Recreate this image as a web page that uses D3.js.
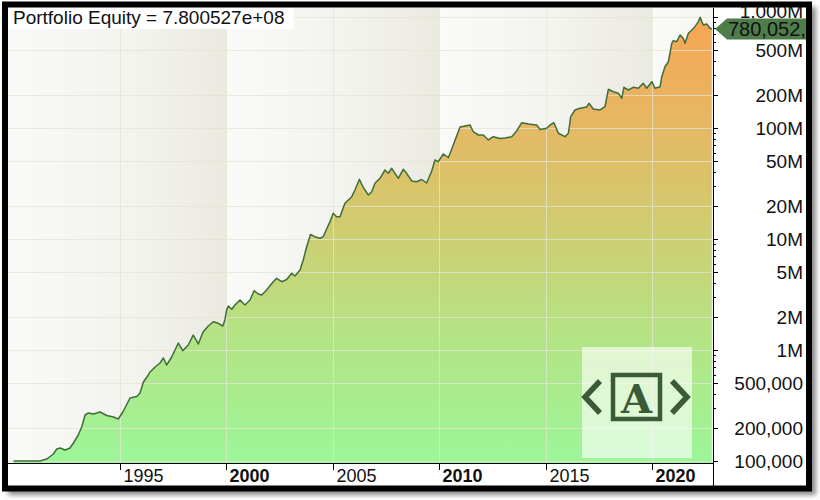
<!DOCTYPE html>
<html><head><meta charset="utf-8">
<script src="https://cdn.jsdelivr.net/npm/d3@7"></script>
<style>body{margin:0;background:#fff}svg{display:block}text{font-family:"Liberation Sans",Arial,sans-serif}</style>
</head><body><svg id="c" width="820" height="500"></svg>
<script>
// ---- data ----
const years=[1990.00,1991.24,1991.56,1991.87,1992.03,1992.18,1992.42,1992.65,1992.81,1993.04,
1993.20,1993.36,1993.51,1993.75,1994.06,1994.38,1994.69,1994.92,1995.16,1995.47,
1995.79,1995.94,1996.10,1996.33,1996.41,1996.65,1996.88,1997.04,1997.19,1997.43,
1997.74,1997.95,1998.21,1998.44,1998.68,1998.91,1999.15,1999.38,1999.62,1999.83,
1999.93,2000.01,2000.09,2000.25,2000.40,2000.64,2000.87,2001.11,2001.30,2001.50,
2001.66,2001.89,2002.20,2002.36,2002.60,2002.83,2003.07,2003.22,2003.46,2003.61,
2003.77,2003.95,2004.16,2004.40,2004.55,2004.71,2004.87,2005.02,2005.18,2005.34,
2005.57,2005.73,2005.89,2006.04,2006.25,2006.43,2006.67,2006.83,2006.98,2007.22,
2007.45,2007.61,2007.77,2007.92,2008.08,2008.31,2008.47,2008.71,2008.94,2009.18,
2009.41,2009.65,2009.80,2009.96,2010.19,2010.43,2010.59,2010.82,2010.98,2011.21,
2011.45,2011.60,2011.84,2012.07,2012.31,2012.54,2012.86,2013.09,2013.41,2013.64,
2013.88,2014.19,2014.58,2014.74,2015.05,2015.21,2015.39,2015.60,2015.91,2016.07,
2016.18,2016.38,2016.62,2016.93,2017.04,2017.24,2017.56,2017.79,2017.95,2018.18,
2018.42,2018.58,2018.68,2018.89,2019.12,2019.36,2019.59,2019.75,2019.99,2020.14,
2020.38,2020.46,2020.61,2020.77,2020.93,2021.00,2021.16,2021.32,2021.47,2021.55,
2021.71,2021.87,2022.02,2022.18,2022.26,2022.41,2022.57,2022.73,2022.81];
const equity=[100000,100000,104200,115600,128300,131000,125600,131000,145300,171500,
202500,259700,270600,265100,276300,257000,249100,239000,282100,369400,
381100,410000,514900,595400,633700,702800,763500,847300,732500,865000,
1156000,985600,1109000,1365000,1133000,1462000,1645000,1799000,1740000,1645000,
1864000,2293000,2491000,2326000,2543000,2821000,2543000,2821000,3421000,3195000,
3130000,3471000,4124000,4425000,4124000,4316000,4909000,4642000,5257000,6469000,
8473000,10980000,10490000,10150000,10490000,12310000,14320000,17040000,15880000,15880000,
20970000,22450000,24050000,27630000,34500000,29230000,24910000,26680000,31760000,35220000,
41840000,39080000,43350000,39080000,35220000,42460000,39080000,33310000,32830000,34360000,
31960000,41000000,51490000,49700000,58320000,54230000,64690000,84730000,102100000,104200000,
106400000,92610000,86490000,86490000,77980000,83510000,80440000,81280000,83510000,93980000,
111600000,108600000,106400000,96940000,99380000,106400000,111600000,89610000,83510000,89610000,
126400000,145300000,150500000,154600000,166900000,148300000,145300000,155600000,223200000,212300000,
205400000,185200000,232600000,219900000,232600000,227900000,252700000,227900000,261300000,227900000,
235500000,289900000,356600000,395600000,579600000,611600000,599100000,688200000,642800000,579600000,
713100000,763500000,817700000,907200000,993800000,847300000,865000000,791100000,780052700];
const xTicks=[1995,2000,2005,2010,2015,2020];
const xBold=[2000,2010,2020];
const bandEdges=[1989,1995,2000,2005,2010,2015,2020,2024];
const yTicks=[1e5,2e5,5e5,1e6,2e6,5e6,1e7,2e7,5e7,1e8,2e8,5e8,1e9];
const yLabels=["100,000","200,000","500,000","1M","2M","5M","10M","20M","50M","100M","200M","500M","1,000M"];
const yMinorMult=[3,4,6,7,8,9];
const yDecades=[1e5,1e6,1e7,1e8];
const titleText="Portfolio Equity = 7.800527e+08";
const lastValue=780052700;

// ---- layout ----
const L=8,R=713,T=8,B=463,FR=806,FB=486;
const svg=d3.select("#c");
const x=d3.scaleLinear().domain([1990,2020]).range([13.6,652]);
const y=d3.scaleLog().domain([1e5,1e9]).range([461,17]);
const data=years.map((t,i)=>({t,v:equity[i]}));

const defs=svg.append("defs");
const sh=defs.append("filter").attr("id","sh").attr("x","-5%").attr("y","-5%").attr("width","110%").attr("height","110%");
sh.append("feGaussianBlur").attr("stdDeviation",2.5);
const gLight=defs.append("linearGradient").attr("id","bl");
gLight.append("stop").attr("offset",0).attr("stop-color","#fafaf8");
gLight.append("stop").attr("offset",1).attr("stop-color","#f3f3ef");
const gDark=defs.append("linearGradient").attr("id","bd");
gDark.append("stop").attr("offset",0).attr("stop-color","#f5f5f0");
gDark.append("stop").attr("offset",1).attr("stop-color","#eaeae1");
const ga=defs.append("linearGradient").attr("id","ga").attr("gradientUnits","userSpaceOnUse")
 .attr("x1",0).attr("x2",0).attr("y1",y(1e5)).attr("y2",y(1e9));
[[0,"#9cf698"],[0.3,"#b6e283"],[0.55,"#d2ca6f"],[0.78,"#e7b662"],[1,"#f8a553"]].forEach(s=>
 ga.append("stop").attr("offset",s[0]).attr("stop-color",s[1]));
defs.append("clipPath").attr("id","pc").append("rect").attr("x",L).attr("y",T).attr("width",R-L).attr("height",B-T);
defs.append("clipPath").attr("id","tc").append("rect").attr("x",R).attr("y",0).attr("width",FR-R).attr("height",60);

// shadow
svg.append("rect").attr("x",8).attr("y",7).attr("width",808).attr("height",488).attr("fill","#8a8a8a").attr("filter","url(#sh)");
svg.append("rect").attr("x",2).attr("y",1).attr("width",810).attr("height",490).attr("fill","#fff");

const plot=svg.append("g").attr("clip-path","url(#pc)");
// bands
for(let i=0;i<bandEdges.length-1;i++){
  plot.append("rect").attr("x",x(bandEdges[i])).attr("y",T)
   .attr("width",x(bandEdges[i+1])-x(bandEdges[i])).attr("height",B-T)
   .attr("fill",i%2===0?"url(#bl)":"url(#bd)");
}
// area
plot.append("path").datum(data).attr("fill","url(#ga)")
 .attr("d",d3.area().x(d=>x(d.t)).y0(B).y1(d=>y(d.v)));
// grid
plot.selectAll(".gy").data(yTicks).join("line").attr("x1",L).attr("x2",R)
 .attr("y1",d=>Math.round(y(d))+0.5).attr("y2",d=>Math.round(y(d))+0.5)
 .attr("stroke","#e4e4d4").attr("stroke-opacity",0.75);
plot.selectAll(".gx").data(xTicks).join("line").attr("y1",T).attr("y2",B)
 .attr("x1",d=>Math.round(x(d))+0.5).attr("x2",d=>Math.round(x(d))+0.5)
 .attr("stroke","#e4e4d4").attr("stroke-opacity",0.75);
// line
plot.append("path").datum(data).attr("fill","none").attr("stroke","#3f6d3b").attr("stroke-width",1.5)
 .attr("stroke-linejoin","round").attr("d",d3.line().x(d=>x(d.t)).y(d=>y(d.v)));

// title box
const title=svg.append("text").attr("x",13).attr("y",24).attr("font-size",19).attr("fill","#111").text(titleText);
const tw=title.node().getComputedTextLength();
svg.insert("rect","text").attr("x",L).attr("y",T).attr("width",tw+14).attr("height",21).attr("fill","#fff");

// logo watermark
const lg=svg.append("g");
lg.append("rect").attr("x",582).attr("y",347).attr("width",110).attr("height",111).attr("fill","#fff").attr("fill-opacity",0.62);
const lc="#3b5b38";
lg.append("polyline").attr("points","600,381 585,397 600,413").attr("fill","none").attr("stroke",lc).attr("stroke-width",5.5);
lg.append("polyline").attr("points","672,381 687,397 672,413").attr("fill","none").attr("stroke",lc).attr("stroke-width",5.5);
lg.append("rect").attr("x",613).attr("y",375).attr("width",47).attr("height",44).attr("fill","none").attr("stroke",lc).attr("stroke-width",4.5);
lg.append("text").attr("x",636.5).attr("y",413).attr("text-anchor","middle").attr("font-size",40)
 .attr("font-weight","bold").attr("fill",lc).style("font-family","'DejaVu Serif',serif").text("A");

// axes panels
svg.append("rect").attr("x",R).attr("y",T).attr("width",FR-R).attr("height",FB-T).attr("fill","#fff");
svg.append("rect").attr("x",L).attr("y",B).attr("width",R-L).attr("height",FB-B).attr("fill","#fff");
svg.append("line").attr("x1",R+0.5).attr("x2",R+0.5).attr("y1",T).attr("y2",FB).attr("stroke","#000");
svg.append("line").attr("x1",L).attr("x2",R).attr("y1",B+0.5).attr("y2",B+0.5).attr("stroke","#000");

// x ticks
const xa=svg.append("g");
xTicks.forEach(t=>{
  const px=Math.round(x(t))+0.5;
  xa.append("line").attr("x1",px).attr("x2",px).attr("y1",B).attr("y2",B+7).attr("stroke","#000");
  xa.append("text").attr("x",px+3).attr("y",482).attr("font-size",18).attr("fill","#111")
   .attr("font-weight",xBold.includes(t)?"bold":"normal").text(t);
});
// y ticks
const ya=svg.append("g");
const minor=[];yDecades.forEach(d=>yMinorMult.forEach(m=>minor.push(d*m)));
minor.forEach(v=>{const py=Math.round(y(v))+0.5;
  ya.append("line").attr("x1",R).attr("x2",R+3).attr("y1",py).attr("y2",py).attr("stroke","#000");});
yTicks.forEach((v,i)=>{const py=Math.round(y(v))+0.5;
  ya.append("line").attr("x1",R).attr("x2",R+5).attr("y1",py).attr("y2",py).attr("stroke","#000");
  ya.append("text").attr("x",803).attr("y",i===yTicks.length-1?py-6:py).attr("dy","0.36em").attr("text-anchor","end")
   .attr("font-size",19).attr("fill","#111").text(yLabels[i]);
});
// last-value tag
const cy=y(lastValue);
const tg=svg.append("g").attr("clip-path","url(#tc)");
tg.append("path").attr("d",`M${R+2},${cy}L${R+14},${cy-10.5}L${FR+6},${cy-10.5}L${FR+6},${cy+10.5}L${R+14},${cy+10.5}Z`)
 .attr("fill","#4e7d4b");
tg.append("text").attr("x",R+15).attr("y",cy).attr("dy","0.36em").attr("font-size",20).attr("fill","#111")
 .text(d3.format(",.0f")(lastValue));

// frame
svg.append("rect").attr("x",5).attr("y",4.5).attr("width",804).attr("height",484).attr("fill","none")
 .attr("stroke","#000").attr("stroke-width",6);
</script></body></html>
